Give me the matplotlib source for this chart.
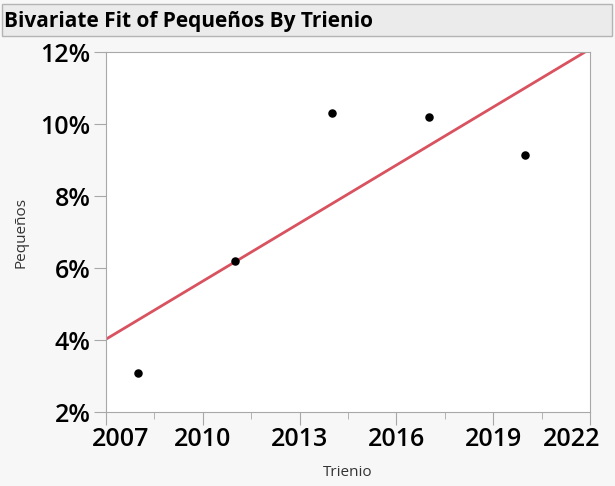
"""Bivariate fit of Pequeños by Trienio (JMP-style scatter with linear fit)."""

import matplotlib

matplotlib.use("Agg")
import matplotlib.pyplot as plt  # noqa: E402
import numpy as np  # noqa: E402
from matplotlib.patches import Rectangle  # noqa: E402
from matplotlib.ticker import FuncFormatter, MultipleLocator  # noqa: E402
from matplotlib.transforms import ScaledTranslation  # noqa: E402

trienio = [2008, 2011, 2014, 2017, 2020]
pequenos = [3.08, 6.20, 10.30, 10.20, 9.14]
x_ticks = [2007, 2010, 2013, 2016, 2019, 2022]
y_ticks = [2, 4, 6, 8, 10, 12]

W, H = 615, 486
plt.rcParams["font.family"] = ["Open Sans", "DejaVu Sans"]
fig = plt.figure(figsize=(W / 100, H / 100), dpi=100, facecolor="#f7f7f7")

# title bar
fig.patches.append(
    Rectangle((2 / W, 1 - 36 / H), 610 / W, 32 / H, transform=fig.transFigure,
              facecolor="#ebebeb", edgecolor="#b4b4b4", linewidth=1)
)
fig.text(4 / W, 1 - 21 / H, "Bivariate Fit of Pequeños By Trienio", fontsize=15,
         fontweight="bold", color="black", va="center", ha="left")

ax = fig.add_axes([106 / W, 1 - 412 / H, 484 / W, 360 / H])
ax.set_facecolor("white")
ax.set_xlim(2007, 2022)
ax.set_ylim(2, 12)

slope, intercept = np.polyfit(trienio, pequenos, 1)
xs = np.array([2007, 2022])
ax.plot(xs, slope * xs + intercept, color="#d9525f", linewidth=2)
ax.scatter(trienio, pequenos, s=26, color="black", zorder=3)

ax.set_xticks(x_ticks)
ax.xaxis.set_minor_locator(MultipleLocator(1.5))
ax.set_yticks(y_ticks)
ax.yaxis.set_major_formatter(FuncFormatter(lambda v, _: f"{v:.0f}%"))
for s in ax.spines.values():
    s.set_color("#a8a8a8")
ax.tick_params(axis="both", which="major", length=9, color="#a8a8a8", labelsize=18,
               labelcolor="black", pad=2)
ax.tick_params(axis="x", which="minor", length=5, color="#a8a8a8")
for lab in ax.get_xticklabels() + ax.get_yticklabels():
    lab.set_fontweight("semibold")

# JMP nudges the end labels inward so they stay inside the frame
xlabels = ax.get_xticklabels()
xlabels[0].set_transform(xlabels[0].get_transform() + ScaledTranslation(15 / 100, 0, fig.dpi_scale_trans))
xlabels[-1].set_transform(xlabels[-1].get_transform() + ScaledTranslation(-18 / 100, 0, fig.dpi_scale_trans))

ax.set_xlabel("Trienio", fontsize=11, color="#333333", labelpad=9)
ax.set_ylabel("Pequeños", fontsize=11, color="#333333", labelpad=9)

fig.savefig("out.png", dpi=100, facecolor=fig.get_facecolor())
